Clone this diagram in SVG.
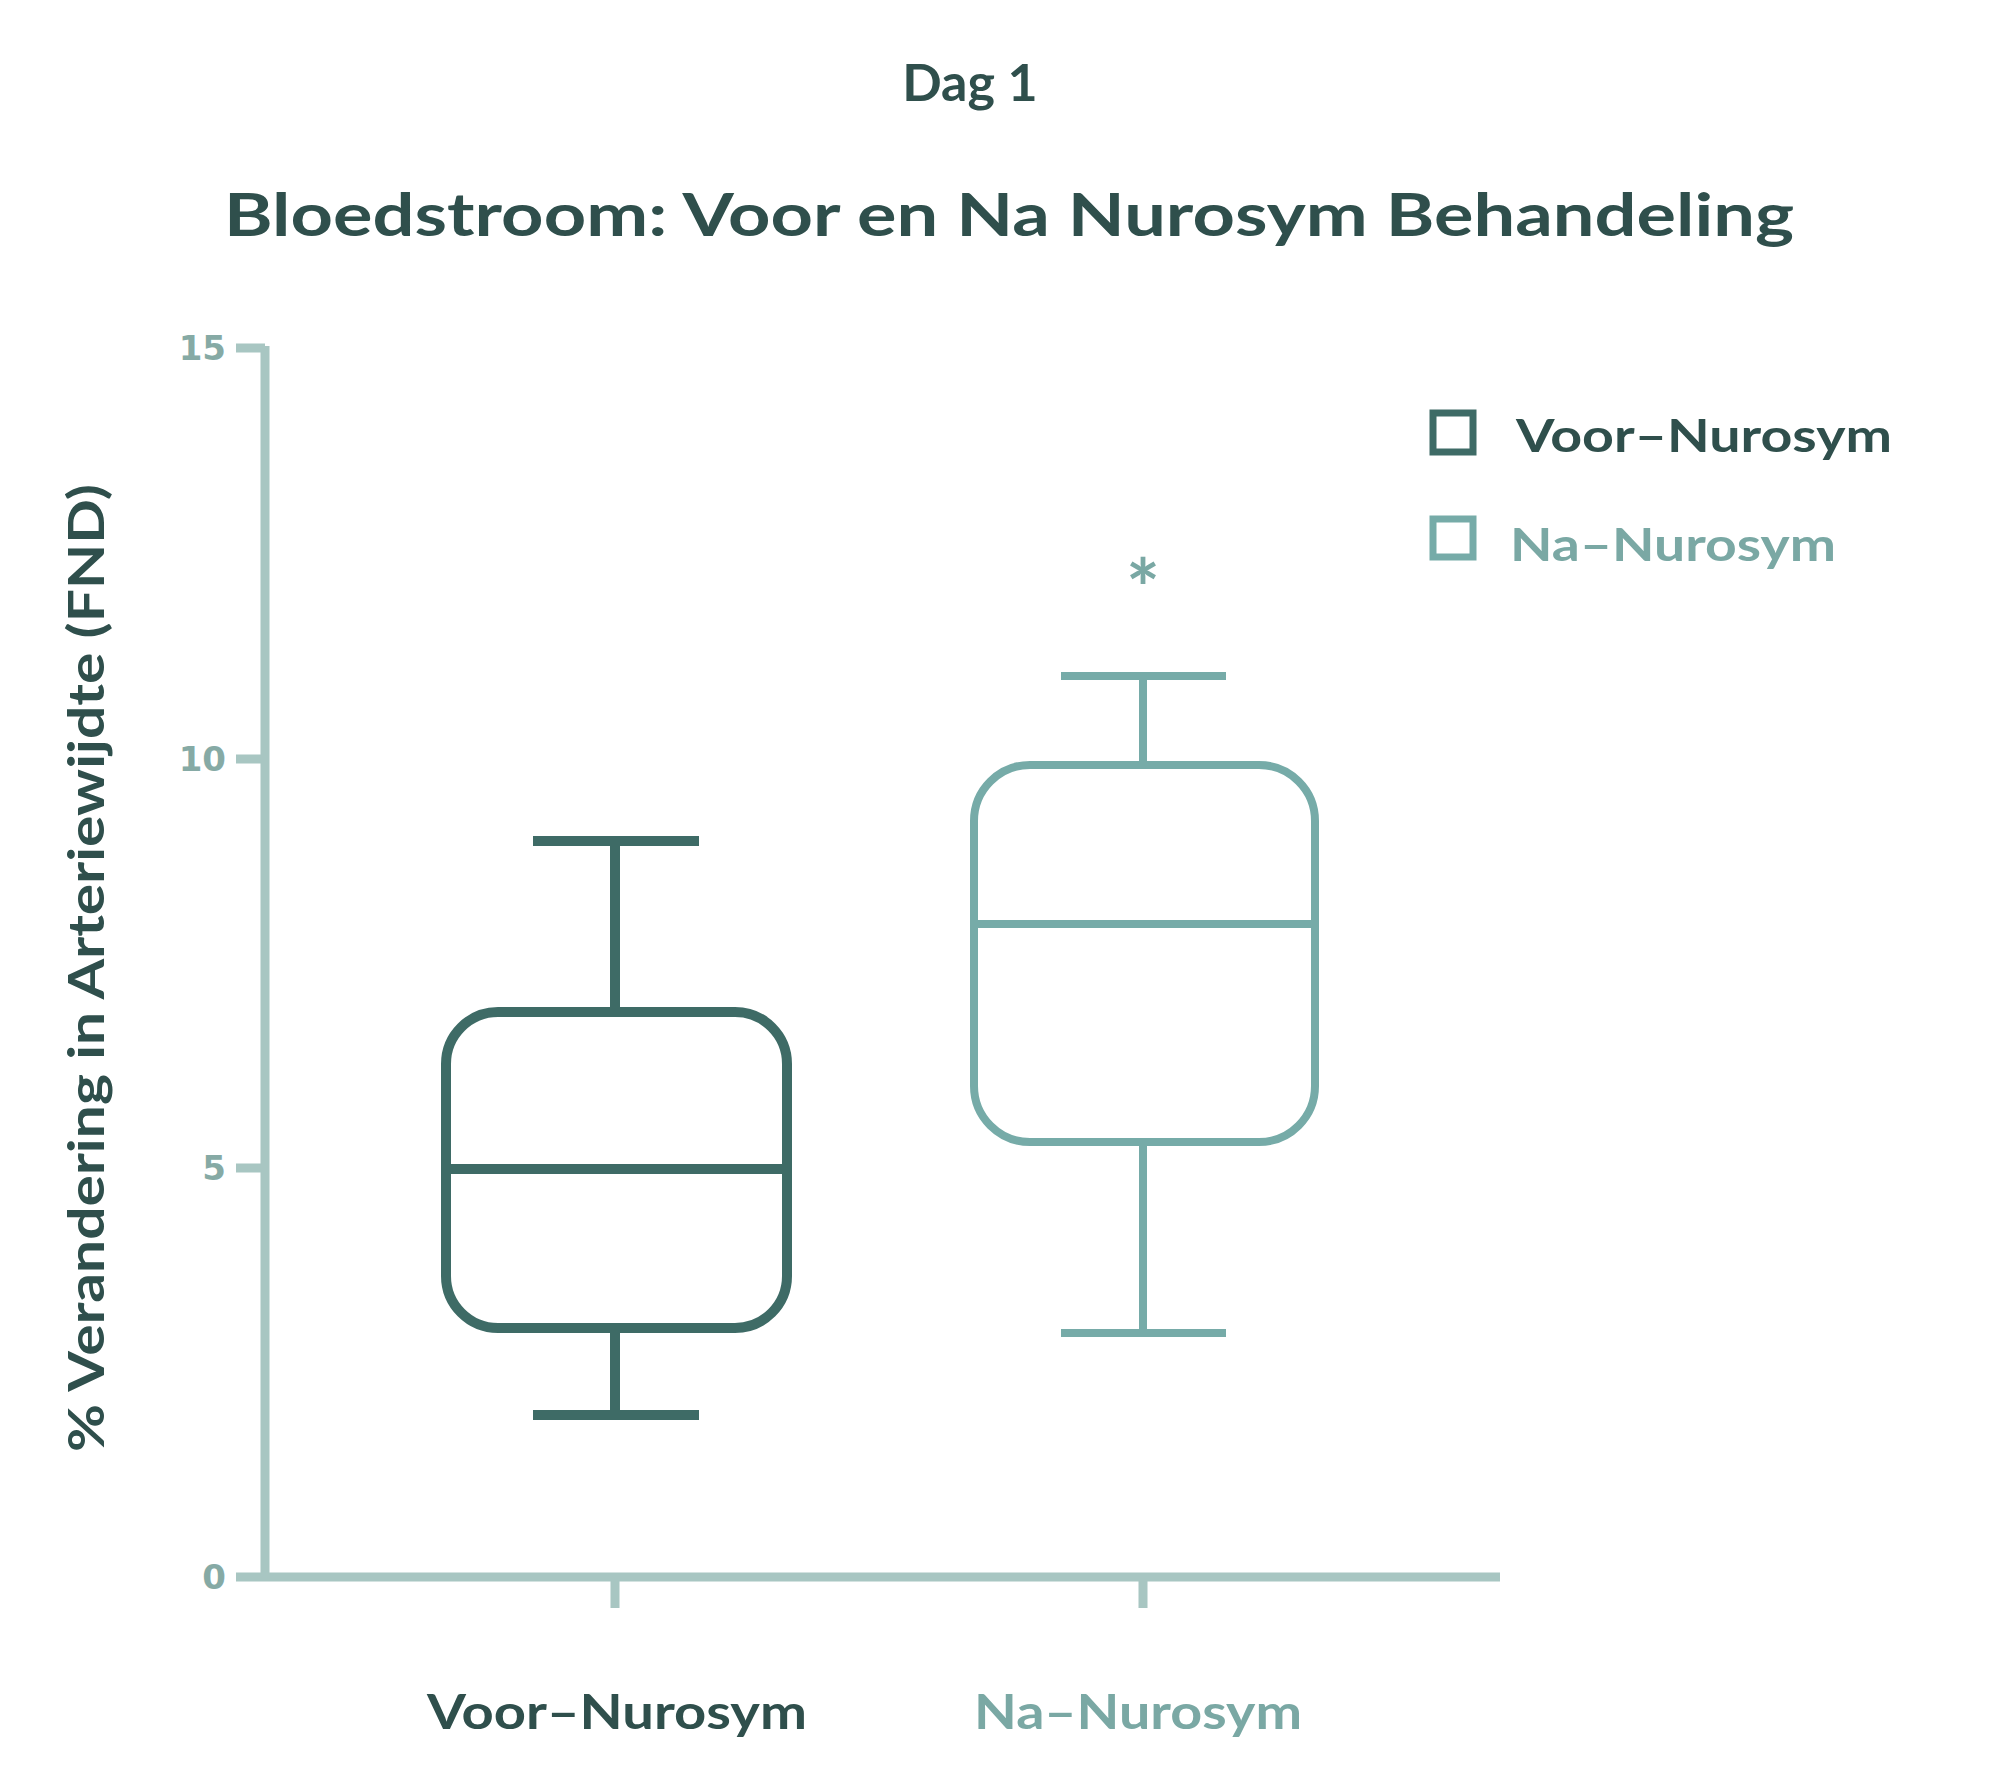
<svg xmlns="http://www.w3.org/2000/svg" width="2013" height="1776" viewBox="0 0 2013 1776">
<style>
text{font-family:"Lato","Open Sans","Liberation Sans",sans-serif;font-weight:bold}
.dk{fill:#2f4f4c}.lt{fill:#7aa8a4}
.ax{stroke:#a8c6c2;stroke-width:9;fill:none}
.b1{stroke:#3e6b66;stroke-width:10;fill:none}
.b2{stroke:#76aba8;stroke-width:8;fill:none}
.tk{fill:#86aaa5;font-size:34px;font-family:"DejaVu Sans",sans-serif}
</style>
<rect width="2013" height="1776" fill="#fff"/>
<g id="titles">
<text class="dk" x="970" y="101" font-size="52" text-anchor="middle">Dag  1</text>
<text class="dk" x="1009" y="236" font-size="59" text-anchor="middle" textLength="1570" lengthAdjust="spacingAndGlyphs">Bloedstroom: Voor en Na Nurosym Behandeling</text>
</g>
<g id="axes">
<path class="ax" d="M265 346V1577H1500M236 348H265M236 759H265M236 1168H265M236 1577H265M615 1577V1608M1143 1577V1608"/>
<text class="tk" x="226" y="360" text-anchor="end">15</text>
<text class="tk" x="226" y="771" text-anchor="end">10</text>
<text class="tk" x="226" y="1180" text-anchor="end">5</text>
<text class="tk" x="226" y="1589" text-anchor="end">0</text>
<text class="dk" transform="translate(104,968) rotate(-90)" font-size="50" text-anchor="middle" font-family="DejaVu Sans Condensed,sans-serif" textLength="968" lengthAdjust="spacingAndGlyphs">% Verandering in Arteriewijdte (FND)</text>
<text class="dk" x="617" y="1729" font-size="47" text-anchor="middle" textLength="380" lengthAdjust="spacingAndGlyphs">Voor–Nurosym</text>
<text class="lt" x="1138" y="1729" font-size="47" text-anchor="middle" textLength="328" lengthAdjust="spacingAndGlyphs">Na–Nurosym</text>
</g>
<g id="box-voor">
<path class="b1" d="M615 841V1012M615 1328V1415M533 841H699M533 1415H699M446 1169H787"/>
<rect class="b1" x="446" y="1012" width="341" height="316" rx="52"/>
</g>
<g id="box-na">
<path class="b2" d="M1143 676V765M1143 1142V1333M1061 676H1226M1061 1333H1226M974 924H1315"/>
<rect class="b2" x="974" y="765" width="341" height="377" rx="56"/>
<text class="lt" x="1143" y="618" font-size="80" text-anchor="middle">*</text>
</g>
<g id="legend">
<rect x="1433" y="413" width="40" height="39" fill="none" stroke="#3e6b66" stroke-width="7"/>
<text class="dk" x="1516" y="452" font-size="46" textLength="376" lengthAdjust="spacingAndGlyphs">Voor–Nurosym</text>
<rect x="1433" y="519" width="40" height="38" fill="none" stroke="#76aba8" stroke-width="7"/>
<text class="lt" x="1510" y="561" font-size="46" textLength="326" lengthAdjust="spacingAndGlyphs">Na–Nurosym</text>
</g>
</svg>
